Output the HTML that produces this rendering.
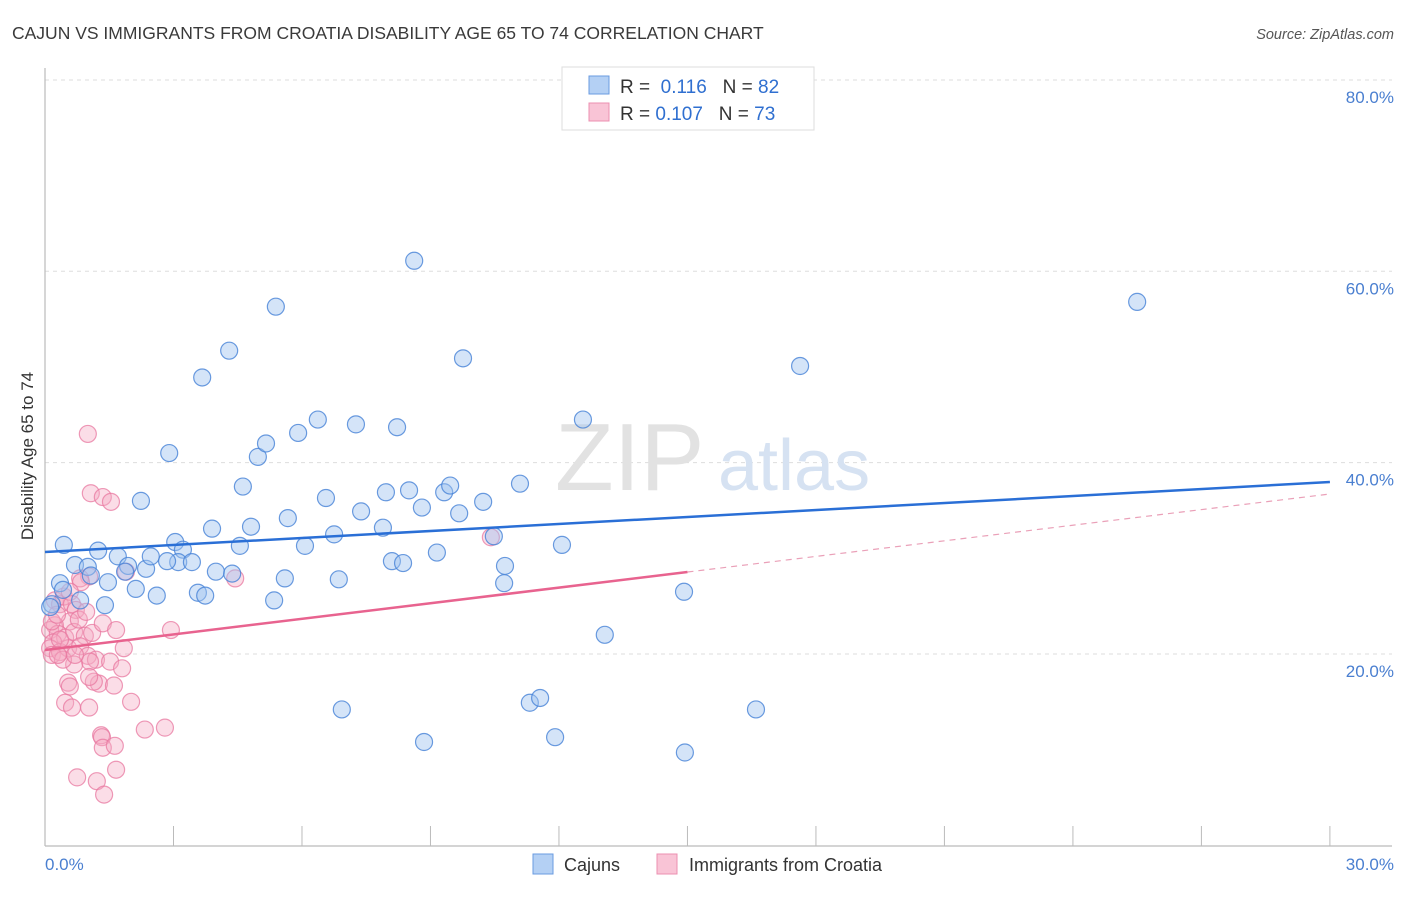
<!DOCTYPE html>
<html><head><meta charset="utf-8"><style>
body{margin:0;background:#fff;font-family:"Liberation Sans",sans-serif;}
svg text{font-family:"Liberation Sans",sans-serif;}
</style></head><body>
<svg id="chart" width="1406" height="892" viewBox="0 0 1406 892" xmlns="http://www.w3.org/2000/svg">
<text x="12" y="39" font-size="17.5" fill="#3a3a3a">CAJUN VS IMMIGRANTS FROM CROATIA DISABILITY AGE 65 TO 74 CORRELATION CHART</text>
<text x="1394" y="39" font-size="14.5" fill="#555" text-anchor="end" font-style="italic">Source: ZipAtlas.com</text>
<g id="grid"></g>
<g>
<text x="555" y="490" font-size="96" fill="#e2e2e2" font-family="Liberation Serif">ZIP</text>
<text x="718" y="490" font-size="72" fill="#d6e2f2">atlas</text>
</g>
<line x1="45" y1="68" x2="45" y2="846" stroke="#bbb" stroke-width="1.2"/>
<line x1="45" y1="846" x2="1392" y2="846" stroke="#bbb" stroke-width="1.2"/>
<g id="ticks"></g>
<g id="pts"></g>
<g id="lines"></g>
<text transform="translate(33,456) rotate(-90)" font-size="17" fill="#333" text-anchor="middle">Disability Age 65 to 74</text>
<text x="45" y="870" font-size="17" fill="#4a7fd0">0.0%</text>
<text x="1394" y="870" font-size="17" fill="#4a7fd0" text-anchor="end">30.0%</text>
<g>
<rect x="562" y="67" width="252" height="63" fill="#fff" stroke="#ddd"/>
<rect x="589" y="76" width="20" height="18" fill="#b4d0f4" stroke="#6a9be0"/>
<rect x="589" y="103" width="20" height="18" fill="#f9c4d6" stroke="#ec8fb0"/>
<text x="620" y="93" font-size="19" fill="#333">R = <tspan fill="#2f6fd0">&#160;0.116</tspan>&#160;&#160;&#160;N = <tspan fill="#2f6fd0">82</tspan></text>
<text x="620" y="120" font-size="19" fill="#333">R = <tspan fill="#2f6fd0">0.107</tspan>&#160;&#160;&#160;N = <tspan fill="#2f6fd0">73</tspan></text>
</g>
<g>
<rect x="533" y="854" width="20" height="20" fill="#b4d0f4" stroke="#6a9be0"/>
<text x="564" y="871" font-size="18" fill="#333">Cajuns</text>
<rect x="657" y="854" width="20" height="20" fill="#f9c4d6" stroke="#ec8fb0"/>
<text x="689" y="871" font-size="18" fill="#333">Immigrants from Croatia</text>
</g>
</svg>
<script>
const yTicks=[20,40,60,80];
const yTickLabels=["20.0%","40.0%","60.0%","80.0%"];
const xTicks=[3,6,9,12,15,18,21,24,27,30];
const blueX=[0.44,0.35,0.70,1.00,1.07,0.16,0.12,0.82,1.40,1.24,1.47,1.70,1.94,1.87,2.12,2.36,2.47,2.61,2.24,2.90,3.04,3.22,3.11,3.43,2.85,3.57,3.74,3.90,3.99,4.37,4.55,3.67,4.30,4.81,4.62,4.97,5.16,5.39,5.35,5.60,5.67,5.91,6.07,6.37,6.56,6.75,6.86,7.26,7.38,7.89,7.96,8.10,8.36,8.22,8.50,8.62,8.80,9.15,9.32,9.46,9.67,9.76,10.23,10.48,10.74,10.72,11.09,12.07,12.56,13.07,11.32,11.56,11.91,8.85,6.93,14.92,14.94,16.60,17.63,25.50,0.42];
const blueY=[31.4,27.4,29.3,29.1,28.2,25.2,24.9,25.6,25.1,30.8,27.5,30.2,29.2,28.6,26.8,28.9,30.2,26.1,36.0,41.0,31.7,30.9,29.6,29.6,29.7,26.4,26.1,33.1,28.6,28.4,31.3,48.9,51.7,33.3,37.5,40.6,42.0,56.3,25.6,27.9,34.2,43.1,31.3,44.5,36.3,32.5,27.8,44.0,34.9,33.2,36.9,29.7,29.5,43.7,37.1,61.1,35.3,30.6,36.9,37.6,34.7,50.9,35.9,32.3,29.2,27.4,37.8,31.4,44.5,22.0,14.9,15.4,11.3,10.8,14.2,26.5,9.7,14.2,50.1,56.8,26.7];
const pinkX=[1.00,1.07,1.35,1.54,1.03,0.82,0.84,1.89,4.44,10.41,0.23,0.35,0.44,0.58,0.63,0.72,0.58,0.23,0.12,0.30,0.47,0.68,0.19,0.12,0.16,0.35,0.54,0.93,1.10,1.35,1.66,2.94,0.82,1.00,1.19,1.52,1.84,0.16,0.28,0.79,0.96,1.05,1.80,0.68,0.54,0.58,1.26,1.61,1.14,1.03,2.01,0.47,0.63,1.03,1.31,1.33,1.35,1.63,2.33,2.80,0.75,1.21,1.66,1.38,0.35,0.42,0.30,0.70];
const pinkY=[43.0,36.8,36.4,35.9,28.1,27.9,27.5,28.6,27.9,32.2,25.6,25.2,26.0,26.5,25.2,24.6,23.4,23.0,22.5,22.1,21.7,22.3,21.2,20.6,19.9,20.2,20.6,21.9,22.2,23.2,22.5,22.5,20.8,19.8,19.4,19.2,20.6,23.4,24.1,23.6,24.4,19.2,18.5,18.9,17.0,16.6,16.9,16.7,17.1,17.6,15.0,14.9,14.4,14.4,11.5,11.3,10.2,10.4,12.1,12.3,7.1,6.7,7.9,5.3,21.5,19.4,19.9,19.9];
const blueTrend=[30.66,37.97];
const pinkTrend=[20.41,36.72];
const pinkSolidEnd=15;
const NS="http://www.w3.org/2000/svg";
const sx=v=>45+v*42.83, sy=v=>845.3-v*9.567;
const grid=document.getElementById('grid');
yTicks.forEach((t,i)=>{
 const l=document.createElementNS(NS,'line');
 
 
 l.setAttribute('x1',45);l.setAttribute('x2',1392);l.setAttribute('y1',sy(t));l.setAttribute('y2',sy(t));
 l.setAttribute('stroke','#ddd');l.setAttribute('stroke-dasharray','4,4');grid.appendChild(l);
 const tx=document.createElementNS(NS,'text');
 
 
 tx.setAttribute('x',1394);tx.setAttribute('y',sy(t)+23);tx.setAttribute('text-anchor','end');
 tx.setAttribute('font-size','17');tx.setAttribute('fill','#4a7fd0');tx.textContent=yTickLabels[i];grid.appendChild(tx);
});
const tk=document.getElementById('ticks');
xTicks.forEach(t=>{
 const l=document.createElementNS(NS,'line');
 
 
 l.setAttribute('x1',sx(t));l.setAttribute('x2',sx(t));l.setAttribute('y1',826);l.setAttribute('y2',846);
 l.setAttribute('stroke','#bbb');tk.appendChild(l);
});
const pts=document.getElementById('pts');
function dots(X,Y,fill,stroke,name){X.forEach((x,i)=>{
 const c=document.createElementNS(NS,'circle');
 
 
 c.setAttribute('cx',sx(x));c.setAttribute('cy',sy(Y[i]));c.setAttribute('r',8.5);
 c.setAttribute('fill',fill);c.setAttribute('stroke',stroke);c.setAttribute('stroke-width','1.2');pts.appendChild(c);
});}
dots(pinkX,pinkY,'rgba(246,170,196,0.4)','rgba(232,120,160,0.75)','croatia-point');
dots(blueX,blueY,'rgba(160,196,240,0.45)','rgba(70,130,215,0.8)','cajun-point');
const ln=document.getElementById('lines');
function line(x1,y1,x2,y2,col,w,dash,name){
 const l=document.createElementNS(NS,'line');
 
 
 l.setAttribute('x1',sx(x1));l.setAttribute('y1',sy(y1));l.setAttribute('x2',sx(x2));l.setAttribute('y2',sy(y2));
 l.setAttribute('stroke',col);l.setAttribute('stroke-width',w);if(dash)l.setAttribute('stroke-dasharray',dash);ln.appendChild(l);
}
const pAt=x=>pinkTrend[0]+(pinkTrend[1]-pinkTrend[0])*x/30;
line(0,blueTrend[0],30,blueTrend[1],'#2a6fd6',2.5,null,'cajun-trend-line');
line(0,pinkTrend[0],pinkSolidEnd,pAt(pinkSolidEnd),'#e8638f',2.5,null,'croatia-trend-line');
line(pinkSolidEnd,pAt(pinkSolidEnd),30,pinkTrend[1],'#eaa0b8',1.2,'6,5','croatia-trend-extension');
</script>
</body></html>
